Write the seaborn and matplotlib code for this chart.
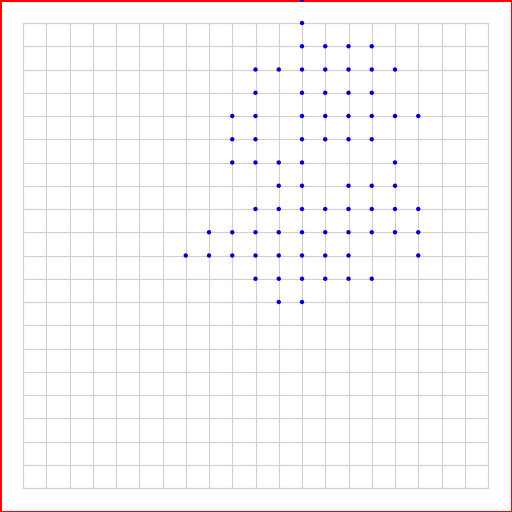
import seaborn as sns
import matplotlib.pyplot as plt
import pandas as pd
from matplotlib.patches import Rectangle

sns.set_theme(style="white")

# grid positions of the dots (column, row counted from the top)
cols = [12,
        12,
        12, 13, 14, 15,
        10, 11, 12, 13, 14, 15, 16,
        10, 12, 13, 14, 15,
        9, 10, 12, 13, 14, 15, 16, 17,
        9, 10, 12, 13, 14, 15,
        9, 10, 11, 12, 16,
        11, 12, 14, 15, 16,
        10, 11, 12, 13, 14, 15, 16, 17,
        8, 9, 10, 11, 12, 13, 14, 15, 16, 17,
        7, 8, 9, 10, 11, 12, 13, 14, 17,
        10, 11, 12, 13, 14, 15,
        11, 12]
rows = [-1,
        0,
        1, 1, 1, 1,
        2, 2, 2, 2, 2, 2, 2,
        3, 3, 3, 3, 3,
        4, 4, 4, 4, 4, 4, 4, 4,
        5, 5, 5, 5, 5, 5,
        6, 6, 6, 6, 6,
        7, 7, 7, 7, 7,
        8, 8, 8, 8, 8, 8, 8, 8,
        9, 9, 9, 9, 9, 9, 9, 9, 9, 9,
        10, 10, 10, 10, 10, 10, 10, 10, 10,
        11, 11, 11, 11, 11, 11,
        12, 12]

data = pd.DataFrame({"x": cols, "y": rows})

fig = plt.figure(figsize=(5.12, 5.12), dpi=100)
ax = fig.add_axes([23 / 512, 24 / 512, 465 / 512, 465 / 512])

sns.scatterplot(data=data, x="x", y="y", ax=ax, color="#0000cc", s=10,
                edgecolor="none", clip_on=False, zorder=3)

ax.set_xlim(0, 20)
ax.set_ylim(20, 0)
ax.set_xticks(range(21))
ax.set_yticks(range(21))
ax.grid(True, color="#d0d0d0", linewidth=0.8)
ax.tick_params(length=0, labelbottom=False, labelleft=False)
ax.set_xlabel("")
ax.set_ylabel("")
for s in ax.spines.values():
    s.set_color("#d0d0d0")
    s.set_linewidth(0.8)

# red frame around the whole figure (right and bottom edges mostly cut off)
fig.patches.append(Rectangle((0.5 / 512, -0.4 / 512), 511.9 / 512, 511.9 / 512,
                             transform=fig.transFigure, fill=False,
                             edgecolor="red", linewidth=1.5, zorder=-1))

fig.savefig("out.png", dpi=100)
